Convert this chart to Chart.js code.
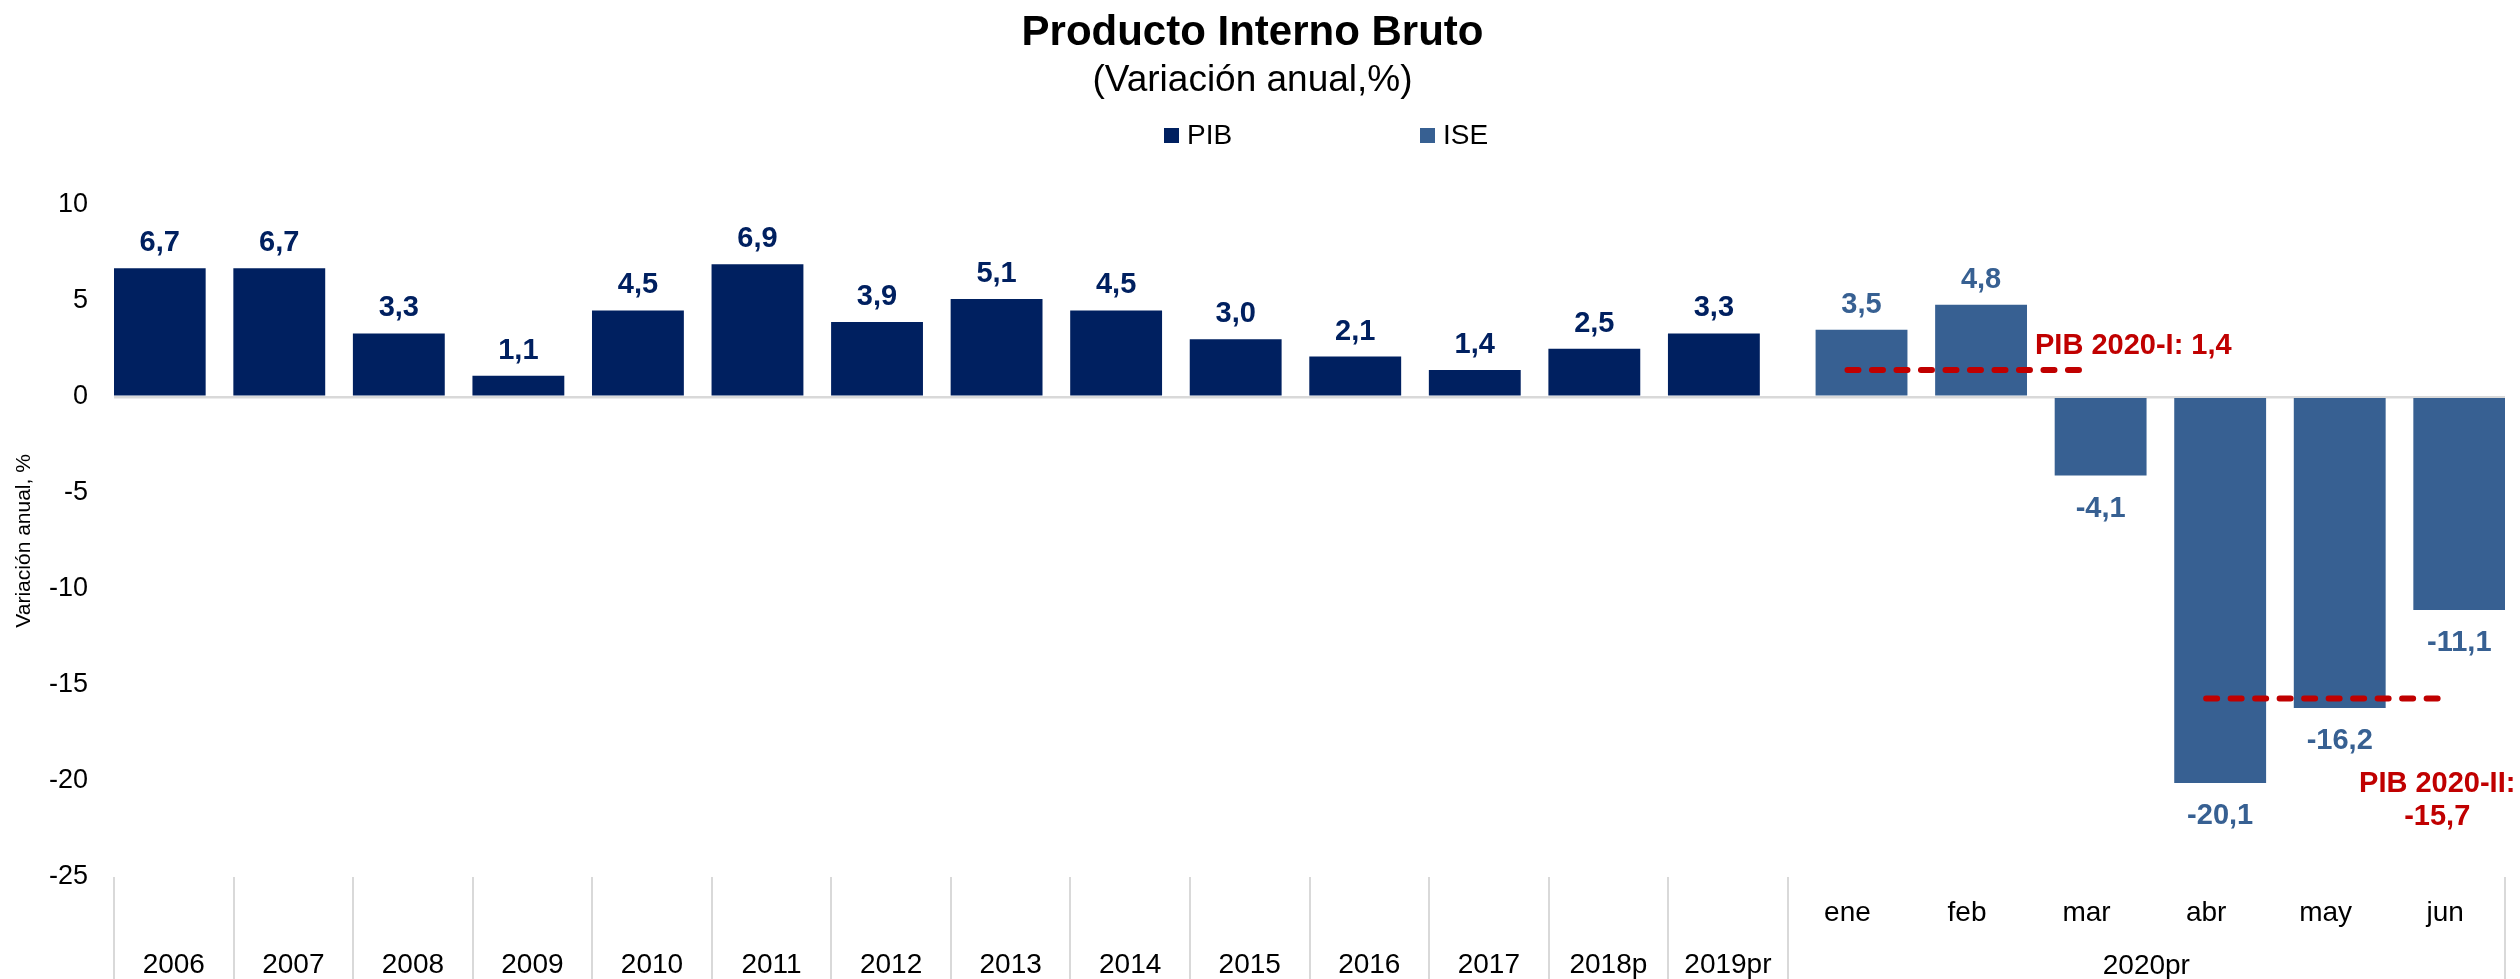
<!DOCTYPE html>
<html lang="es">
<head>
<meta charset="utf-8">
<title>Producto Interno Bruto</title>
<script src="https://cdn.jsdelivr.net/npm/chart.js"></script>
<style>
  html, body { margin: 0; padding: 0; background: #fff; }
  #wrap { width: 2520px; height: 979px; }
</style>
</head>
<body>
<div id="wrap"><canvas id="pibChart"></canvas></div>
<script>
const anios = ["2006", "2007", "2008", "2009", "2010", "2011", "2012", "2013", "2014", "2015", "2016", "2017", "2018p", "2019pr"];
const meses2020 = ["ene", "feb", "mar", "abr", "may", "jun"];
const grupoMeses = "2020pr";
const pibAnual = [6.7, 6.7, 3.3, 1.1, 4.5, 6.9, 3.9, 5.1, 4.5, 3.0, 2.1, 1.4, 2.5, 3.3];
const iseMensual = [3.5, 4.8, -4.1, -20.1, -16.2, -11.1];
const pibTrimestres = ["PIB 2020-I", "PIB 2020-II"];
const pibTrimestral = [1.4, -15.7];
const mesesTrimestre = [["ene", "mar"], ["abr", "jun"]];
const yTicks = [-25, -20, -15, -10, -5, 0, 5, 10];

const FONT = "'Liberation Sans', Arial, sans-serif";
const AZUL_PIB = "#002060";
const AZUL_ISE = "#376092";
const ROJO = "#C00000";

const claves = anios.concat(meses2020);
const etiquetas = anios.map(a => ["", a]).concat(meses2020.map(m => [m, ""]));
const serieTrim = t => {
    const desde = claves.indexOf(mesesTrimestre[t][0]);
    const hasta = claves.indexOf(mesesTrimestre[t][1]);
    return claves.map((k, i) => (i >= desde && i <= hasta ? pibTrimestral[t] : null));
};
const fmt = v => v.toFixed(1).replace(".", ",");

// valores sobre/bajo cada barra
const etiquetasBarras = {
    id: "etiquetasBarras",
    afterDatasetsDraw(chart) {
        const ctx = chart.ctx;
        ctx.save();
        ctx.font = "bold 29px " + FONT;
        ctx.textAlign = "center";
        ctx.textBaseline = "alphabetic";
        chart.data.datasets.forEach((ds, di) => {
            if (ds.type === "line") return;
            const meta = chart.getDatasetMeta(di);
            ctx.fillStyle = ds.backgroundColor;
            meta.data.forEach((bar, i) => {
                const v = ds.data[i];
                if (v === null) return;
                const y = v >= 0 ? bar.y - 17 : bar.y + 41;
                ctx.fillText(fmt(v), bar.x, y);
            });
        });
        ctx.restore();
    }
};

// notas del PIB trimestral, grupo 2020pr y leyenda
const notas = {
    id: "notas",
    afterDraw(chart) {
        const ctx = chart.ctx;
        const x = chart.scales.x;
        const y = chart.scales.y;
        ctx.save();

        ctx.fillStyle = ROJO;
        ctx.font = "bold 29px " + FONT;
        ctx.textBaseline = "alphabetic";
        ctx.textAlign = "left";
        ctx.fillText(pibTrimestres[0] + ": " + fmt(pibTrimestral[0]),
            x.getPixelForValue(claves.indexOf("feb")) + 68, y.getPixelForValue(pibTrimestral[0]) - 16);
        ctx.textAlign = "center";
        const x2 = x.getPixelForValue(claves.indexOf("jun")) - 8;
        const y2 = y.getPixelForValue(pibTrimestral[1]);
        ctx.fillText(pibTrimestres[1] + ":", x2, y2 + 94);
        ctx.fillText(fmt(pibTrimestral[1]), x2, y2 + 127);

        ctx.fillStyle = "#000";
        ctx.font = "28px " + FONT;
        const xa = x.getPixelForValue(claves.indexOf(meses2020[0]));
        const xb = x.getPixelForValue(claves.indexOf(meses2020[meses2020.length - 1]));
        ctx.fillText(grupoMeses, (xa + xb) / 2, chart.chartArea.bottom + 97);

        ctx.textAlign = "left";
        ctx.textBaseline = "middle";
        let lx = chart.width / 2 - 96;
        chart.data.datasets.forEach(ds => {
            if (ds.type === "line") return;
            ctx.fillStyle = ds.backgroundColor;
            ctx.fillRect(lx, 128, 15, 15);
            ctx.fillStyle = "#000";
            ctx.fillText(ds.label, lx + 23, 136);
            lx += 256;
        });
        ctx.restore();
    }
};

function renderPibChart() {
    const ctx = document.getElementById("pibChart").getContext("2d");
    const nulos = n => new Array(n).fill(null);

    new Chart(ctx, {
        type: "bar",
        data: {
            labels: etiquetas,
            datasets: [
                {
                    label: "PIB",
                    data: pibAnual.concat(nulos(meses2020.length)),
                    backgroundColor: AZUL_PIB,
                    order: 2,
                },
                {
                    label: "ISE",
                    data: nulos(anios.length).concat(iseMensual),
                    backgroundColor: AZUL_ISE,
                    order: 2,
                },
                ...pibTrimestres.map((t, i) => ({
                    type: "line",
                    label: t,
                    data: serieTrim(i),
                    borderColor: ROJO,
                    borderWidth: 6,
                    borderDash: [11, 13.5],
                    borderCapStyle: "round",
                    pointRadius: 0,
                    fill: false,
                    order: 1,
                })),
            ],
        },
        options: {
            responsive: true,
            maintainAspectRatio: false,
            animation: false,
            layout: { padding: { left: 0, right: 15, top: 0, bottom: 0 } },
            datasets: {
                bar: { categoryPercentage: 0.47, barPercentage: 3.27 },
            },
            plugins: {
                legend: { display: false },
                tooltip: { enabled: false },
                title: {
                    display: true,
                    text: "Producto Interno Bruto",
                    color: "#000",
                    font: { family: FONT, size: 42, weight: "bold" },
                    padding: { top: 8, bottom: 0 },
                },
                subtitle: {
                    display: true,
                    text: "(Variación anual,%)",
                    color: "#000",
                    font: { family: FONT, size: 37 },
                    padding: { top: 0, bottom: 102 },
                },
            },
            scales: {
                x: {
                    offset: true,
                    border: { display: false },
                    grid: {
                        offset: true,
                        drawOnChartArea: false,
                        drawTicks: true,
                        tickLength: 102,
                        lineWidth: 2,
                        color: c => (c.index > anios.length && c.index < claves.length ? "rgba(0,0,0,0)" : "#d9d9d9"),
                    },
                    ticks: {
                        autoSkip: false,
                        maxRotation: 0,
                        padding: -92,
                        color: "#000",
                        font: { family: FONT, size: 28, lineHeight: 1.857 },
                    },
                    afterFit: s => { s.height = 102; },
                },
                y: {
                    min: -25,
                    max: 10,
                    border: { display: false },
                    grid: {
                        drawTicks: false,
                        lineWidth: 2.5,
                        color: c => (c.tick && c.tick.value === 0 ? "#d9d9d9" : "rgba(0,0,0,0)"),
                    },
                    afterBuildTicks: s => { s.ticks = yTicks.map(v => ({ value: v })); },
                    ticks: {
                        padding: 26,
                        color: "#000",
                        font: { family: FONT, size: 27 },
                        callback: v => String(v),
                    },
                    title: {
                        display: true,
                        text: "Variación anual, %",
                        color: "#000",
                        font: { family: FONT, size: 21 },
                        padding: { top: 12, bottom: 0 },
                    },
                    afterFit: s => { s.width = 114; },
                },
            },
        },
        plugins: [etiquetasBarras, notas],
    });
}

document.addEventListener("DOMContentLoaded", renderPibChart);
</script>
</body>
</html>
